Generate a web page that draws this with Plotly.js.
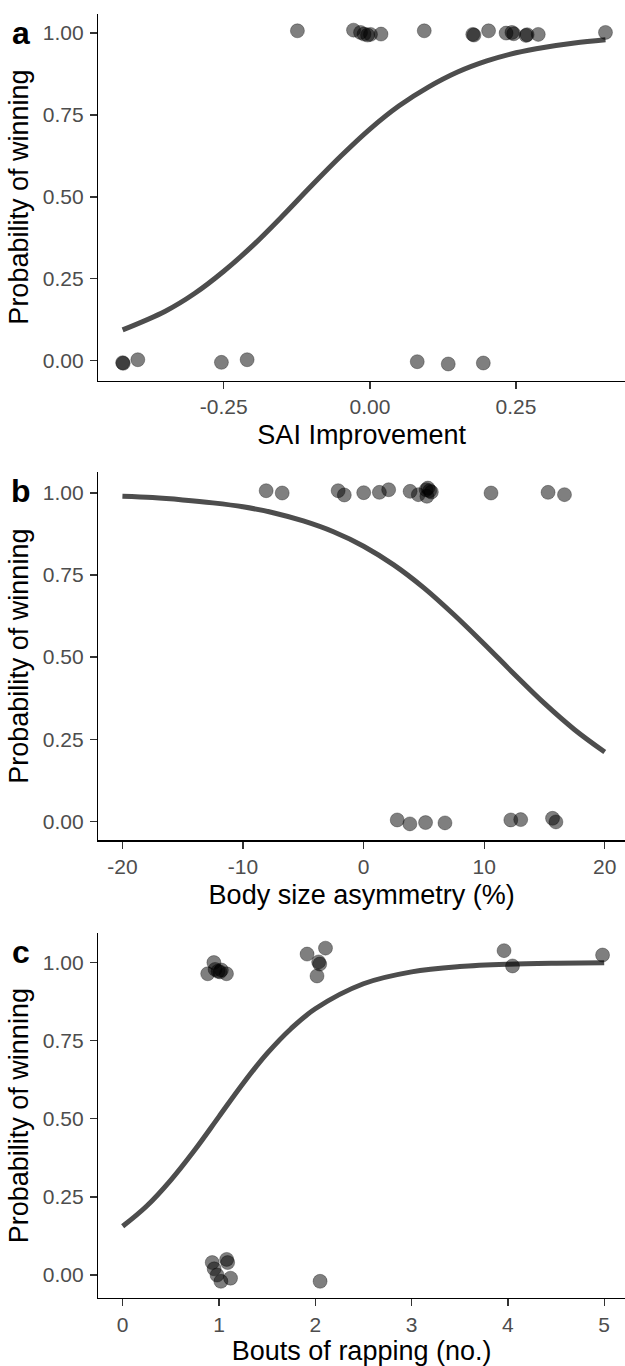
<!DOCTYPE html>
<html>
<head>
<meta charset="utf-8">
<script src="https://cdn.plot.ly/plotly-3.0.1.min.js"></script>
<style>html,body{margin:0;padding:0;background:#fff;overflow:hidden}#chart{width:625px;height:1366px}</style>
</head>
<body>
<div id="chart"></div>
<script>
// Panel a: SAI Improvement
const aPtsX = [-0.124, -0.028, -0.016, -0.010, -0.004, 0.001, 0.019, 0.093, 0.176, 0.178, 0.203, 0.233, 0.243, 0.246, 0.267, 0.269, 0.288, 0.403,
               -0.423, -0.422, -0.397, -0.254, -0.210, 0.081, 0.134, 0.194];
const aPtsY = [1.007, 1.009, 1.002, 0.997, 0.994, 0.996, 0.997, 1.007, 0.996, 0.994, 1.007, 1.000, 1.002, 0.998, 0.993, 0.995, 0.996, 1.002,
               -0.006, -0.008, 0.003, -0.005, 0.003, -0.003, -0.010, -0.007];
const aCurveX = [-0.423, -0.35, -0.30, -0.25, -0.20, -0.15, -0.10, -0.05, 0, 0.05, 0.10, 0.15, 0.20, 0.25, 0.30, 0.35, 0.403];
const aCurveY = [0.094, 0.151, 0.205, 0.273, 0.352, 0.441, 0.534, 0.624, 0.707, 0.778, 0.835, 0.881, 0.915, 0.940, 0.957, 0.970, 0.980];
const aTicks = [-0.25, 0, 0.25];
const aTickText = ["-0.25", "0.00", "0.25"];

// Panel b: Body size asymmetry
const bPtsX = [-8.08, -6.75, -2.11, -1.60, 0.01, 1.31, 2.08, 3.86, 4.54, 5.19, 5.33, 5.48, 5.25, 5.62, 10.57, 15.30, 16.66,
               2.79, 3.84, 5.14, 6.75, 12.21, 13.03, 15.67, 15.95];
const bPtsY = [1.007, 1.000, 1.007, 0.994, 1.001, 1.002, 1.010, 1.005, 0.995, 1.010, 1.015, 1.007, 0.990, 1.003, 1.000, 1.002, 0.995,
               0.004, -0.008, -0.004, -0.005, 0.004, 0.005, 0.009, -0.002];
const bCurveX = [-20, -17.5, -15, -12.5, -10, -7.5, -5, -2.5, 0, 2.5, 5, 7.5, 10, 12.5, 15, 17.5, 20];
const bCurveY = [0.990, 0.986, 0.979, 0.970, 0.958, 0.940, 0.915, 0.882, 0.838, 0.781, 0.711, 0.629, 0.540, 0.448, 0.359, 0.279, 0.211];
const bTicks = [-20, -10, 0, 10, 20];
const bTickText = ["-20", "-10", "0", "10", "20"];

// Panel c: Bouts of rapping
const cPtsX = [0.883, 0.947, 0.96, 0.99, 1.025, 1.078, 1.01, 1.915, 2.106, 2.035, 2.046, 2.018, 3.960, 4.048, 4.983,
               0.93, 0.95, 0.98, 1.02, 1.08, 1.09, 1.12, 2.05];
const cPtsY = [0.964, 1.000, 0.978, 0.972, 0.976, 0.964, 0.970, 1.027, 1.046, 1.002, 0.995, 0.957, 1.038, 0.989, 1.024,
               0.04, 0.02, 0.0, -0.02, 0.05, 0.04, -0.01, -0.02];
const cCurveX = [0, 0.25, 0.5, 0.75, 1.0, 1.25, 1.5, 1.75, 2.0, 2.5, 3.0, 3.5, 4.0, 4.5, 5.0];
const cCurveY = [0.156, 0.221, 0.304, 0.401, 0.507, 0.613, 0.709, 0.789, 0.852, 0.932, 0.970, 0.987, 0.9945, 0.9976, 0.999];
const cTicks = [0, 1, 2, 3, 4, 5];
const cTickText = ["0", "1", "2", "3", "4", "5"];

const yTicks = [0, 0.25, 0.5, 0.75, 1];
const yTickText = ["0.00", "0.25", "0.50", "0.75", "1.00"];

const xTitles = ["SAI Improvement", "Body size asymmetry (%)", "Bouts of rapping (no.)"];
const yTitle = "Probability of winning";
const panelLetters = ["a", "b", "c"];

const W = 625, H = 1366;
const FONT = "Liberation Sans, Arial, sans-serif";
const lineCol = "#4d4d4d";

function ptTrace(x, y, ax) {
  return {x: x, y: y, xaxis: ax[0], yaxis: ax[1], type: "scatter", mode: "markers",
    marker: {size: 14, color: "rgba(0,0,0,0.5)", line: {color: "rgba(0,0,0,0.3)", width: 1}},
    hoverinfo: "skip", showlegend: false};
}
function curveTrace(x, y, ax) {
  return {x: x, y: y, xaxis: ax[0], yaxis: ax[1], type: "scatter", mode: "lines",
    line: {color: lineCol, width: 5, shape: "spline"}, hoverinfo: "skip", showlegend: false};
}

const data = [
  curveTrace(aCurveX, aCurveY, ["x", "y"]), ptTrace(aPtsX, aPtsY, ["x", "y"]),
  curveTrace(bCurveX, bCurveY, ["x2", "y2"]), ptTrace(bPtsX, bPtsY, ["x2", "y2"]),
  curveTrace(cCurveX, cCurveY, ["x3", "y3"]), ptTrace(cPtsX, cPtsY, ["x3", "y3"])
];

// pixel geometry of the plot areas
const left = 98.3;
const panels = [
  {top: 13.6, bottom: 380.5, xr: [-0.4646, 0.4364], yr: [-0.0604, 1.0595], tv: aTicks, tt: aTickText},
  {top: 472, bottom: 840.3, xr: [-22.0, 21.68], yr: [-0.058, 1.064], tv: bTicks, tt: bTickText},
  {top: 933.3, bottom: 1298, xr: [-0.253, 5.216], yr: [-0.0734, 1.0935], tv: cTicks, tt: cTickText}
];

const layout = {
  width: W, height: H, margin: {l: 0, r: 0, t: 0, b: 0},
  paper_bgcolor: "#fff", plot_bgcolor: "#fff",
  font: {family: FONT, color: "#000"},
  annotations: []
};

panels.forEach((p, i) => {
  const sfx = i === 0 ? "" : String(i + 1);
  const common = {
    showline: true, linecolor: "#000", linewidth: 1.4, mirror: false,
    ticks: "outside", ticklen: 7, tickwidth: 1.3, tickcolor: "#333",
    showgrid: false, zeroline: false, automargin: false,
    tickfont: {family: FONT, size: 21, color: "#4d4d4d"}
  };
  layout["xaxis" + sfx] = Object.assign({}, common, {
    domain: [left / W, 1], range: p.xr, anchor: "y" + sfx,
    tickmode: "array", tickvals: p.tv, ticktext: p.tt,
    title: {text: xTitles[i], font: {family: FONT, size: 27, color: "#000"}, standoff: 8}
  });
  layout["yaxis" + sfx] = Object.assign({}, common, {
    domain: [1 - p.bottom / H, 1 - p.top / H], range: p.yr, anchor: "x" + sfx,
    tickmode: "array", tickvals: yTicks, ticktext: yTickText, ticklabelstandoff: 2,
    title: {text: yTitle, font: {family: FONT, size: 27, color: "#000"}, standoff: 6}
  });
  layout.annotations.push({
    text: "<b>" + panelLetters[i] + "</b>", xref: "paper", yref: "paper",
    x: 21 / W, y: 1 - (p.top + 19) / H, xanchor: "center", yanchor: "middle",
    showarrow: false, font: {family: FONT, size: 32, color: "#000"}
  });
});

Plotly.newPlot("chart", data, layout, {staticPlot: true, displayModeBar: false});
</script>
</body>
</html>
